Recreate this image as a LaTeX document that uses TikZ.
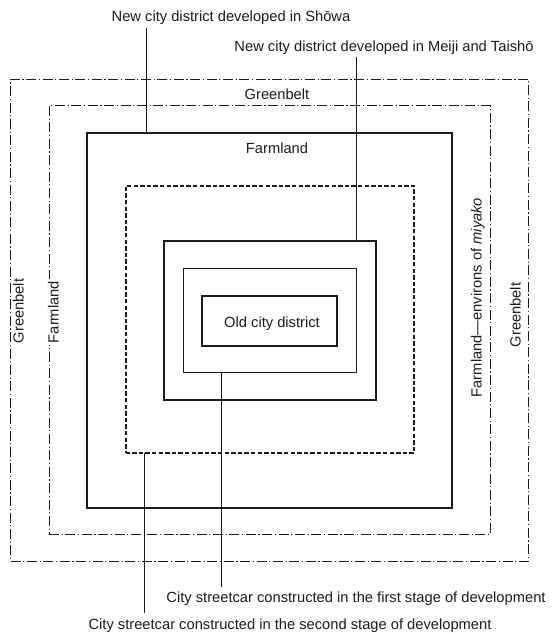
\documentclass[tikz,border=0pt]{standalone}
\usepackage{fontspec}
\setmainfont{Liberation Sans}
\definecolor{ink}{HTML}{1C1C1C}
\begin{document}
\begin{tikzpicture}[x=1pt,y=-1pt,
  lbl/.style={font=\fontsize{14.7}{17}\selectfont, text=ink, inner sep=0pt},
  vlbl/.style={lbl, rotate=90, anchor=mid},
  gap/.style={fill=white, inner xsep=2pt, inner ysep=1.5pt},
  zone/.style={draw=ink, inner sep=0pt, outer sep=0pt},
  beltline/.style={zone, line width=0.9pt, dash pattern=on 10pt off 2.6pt on 1.2pt off 2.6pt},
  boldline/.style={zone, line width=2.3pt},
  thinline/.style={zone, line width=1pt},
  tramline/.style={zone, line width=2pt, dash pattern=on 4.4pt off 2.2pt},
  leader/.style={draw=ink, line width=1pt}]
  \useasboundingbox[fill=white] (0,0) rectangle (555,633);

  % concentric zones, outermost first
  \node[beltline, minimum width=518pt,   minimum height=482pt]   (r1) at (269.5,320)    {};
  \node[beltline, minimum width=441.5pt, minimum height=428.5pt] (r2) at (269.75,319.75) {};
  \node[boldline, minimum width=365pt,   minimum height=375pt]   (r3) at (269.5,320.5)  {};
  \node[tramline, minimum width=288.5pt, minimum height=267pt]   (r4) at (269.75,319.5) {};
  \node[boldline, minimum width=212pt,   minimum height=159pt]   (r5) at (270,320.5)    {};
  \node[thinline, minimum width=173pt,   minimum height=104pt]   (r6) at (269.5,320)    {};
  \node[boldline, minimum width=135pt,   minimum height=50pt]    (r7) at (269.5,321)    {};

  % zone names
  \node[lbl, anchor=base] (gbtop) at (277,99)  {Greenbelt};
  \node[lbl, anchor=base] (fltop) at (277,153) {Farmland};
  \node[lbl, anchor=base] (old)   at (272,327) {Old city district};
  \node[vlbl] (gbleft)  at (21,311)    {Greenbelt};
  \node[vlbl, gap] (flleft)  at (56,312)    {Farmland};
  \node[vlbl] (flright) at (479,297.5) {Farmland\textemdash environs of \textit{miyako}};
  \node[vlbl] (gbright) at (518,315)   {Greenbelt};

  % callout texts
  \node[lbl, anchor=base, inner ysep=3.2pt] (showa)  at (231,21.7) {New city district developed in Sh\={o}wa};
  \node[lbl, anchor=base, inner ysep=1.9pt] (meiji)  at (384,51.7) {New city district developed in Meiji and Taish\={o}};
  \node[lbl, anchor=base, inner ysep=4.3pt] (first)  at (356,602)  {City streetcar constructed in the first stage of development};
  \node[lbl, anchor=base, inner ysep=5.3pt] (second) at (290,629)  {City streetcar constructed in the second stage of development};

  % leader lines
  \coordinate (xs) at (146,0);
  \coordinate (xm) at (356,0);
  \coordinate (xf) at (221,0);
  \coordinate (xc) at (144,0);
  \draw[leader] (showa.south -| xs) -- (xs |- r3.north);
  \draw[leader] (meiji.south -| xm) -- (xm |- r5.north);
  \draw[leader] (xf |- r6.south) -- (first.north -| xf);
  \draw[leader] (xc |- r4.south) -- (second.north -| xc);
\end{tikzpicture}
\end{document}
